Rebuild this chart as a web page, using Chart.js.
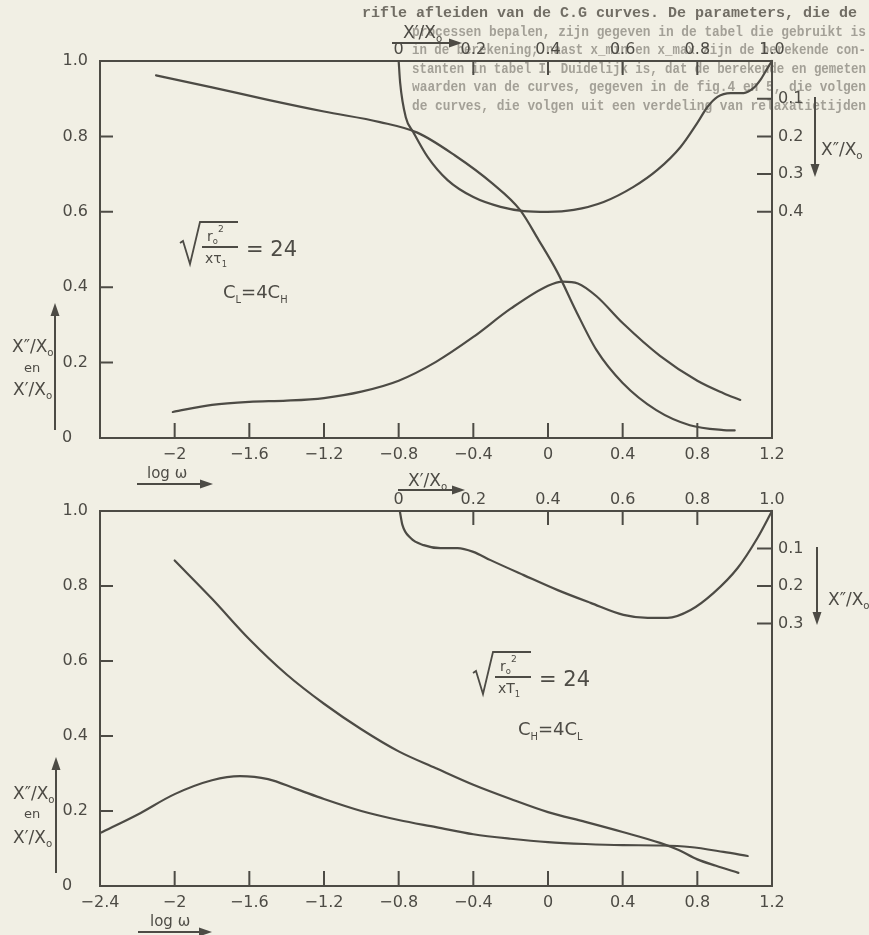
<!DOCTYPE html>
<html lang="nl">
<head>
<meta charset="UTF-8">
<title>X'/X0 en X''/X0 tegen log ω</title>
<script src="https://cdn.jsdelivr.net/npm/chart.js"></script>
<style>
  html, body { margin: 0; padding: 0; background: #f1efe4; }
  #wrap { position: relative; width: 869px; height: 935px; overflow: hidden; }
  #wrap canvas { position: absolute; left: 0; top: 0; }
</style>
</head>
<body>
<div id="wrap">
  <canvas id="chartTop" width="869" height="935"></canvas>
  <canvas id="chartBot" width="869" height="935"></canvas>
</div>
<script>
// as-indeling
const logwTicks = [-2.4, -2, -1.6, -1.2, -0.8, -0.4, 0, 0.4, 0.8, 1.2];
const logwLabels = ['−2.4', '−2', '−1.6', '−1.2', '−0.8', '−0.4', '0', '0.4', '0.8', '1.2'];
const leftTicks = [0, 0.2, 0.4, 0.6, 0.8, 1.0];
const leftLabels = ['0', '0.2', '0.4', '0.6', '0.8', '1.0'];
const topTicks = [0, 0.2, 0.4, 0.6, 0.8, 1.0];
const topLabels = ['0', '0.2', '0.4', '0.6', '0.8', '1.0'];
const rightTicksTop = [0.1, 0.2, 0.3, 0.4];
const rightTicksBot = [0.1, 0.2, 0.3];
const rightLabels = ['0.1', '0.2', '0.3', '0.4'];

// bovenste figuur: C_L = 4C_H
const logwTopReal = [-2.1, -1.8, -1.5, -1.2, -0.9, -0.7, -0.5, -0.3, -0.15, -0.05, 0.05, 0.15, 0.26, 0.4, 0.58, 0.76, 0.94, 1.0];
const realTop = [0.962, 0.93, 0.897, 0.866, 0.838, 0.81, 0.75, 0.676, 0.605, 0.525, 0.44, 0.337, 0.233, 0.146, 0.074, 0.034, 0.021, 0.02];
const logwTopImag = [-2.01, -1.8, -1.6, -1.4, -1.2, -1.0, -0.8, -0.6, -0.4, -0.2, 0.0, 0.08, 0.16, 0.26, 0.4, 0.6, 0.8, 0.94, 1.03];
const imagTop = [0.069, 0.088, 0.096, 0.099, 0.106, 0.123, 0.152, 0.202, 0.268, 0.343, 0.404, 0.415, 0.41, 0.376, 0.305, 0.218, 0.152, 0.119, 0.101];
const coleRealTop = [0, 0.004, 0.019, 0.04, 0.078, 0.131, 0.2, 0.273, 0.335, 0.399, 0.469, 0.549, 0.629, 0.693, 0.755, 0.8, 0.827, 0.854, 0.889, 0.924, 0.95, 0.969, 0.988, 1.0];
const coleImagTop = [0, 0.058, 0.149, 0.19, 0.255, 0.316, 0.361, 0.387, 0.398, 0.4, 0.395, 0.374, 0.334, 0.289, 0.228, 0.164, 0.122, 0.095, 0.085, 0.085, 0.072, 0.05, 0.019, 0];

// onderste figuur: C_H = 4C_L
const logwBotReal = [-2.0, -1.8, -1.6, -1.4, -1.2, -1.0, -0.8, -0.6, -0.4, -0.2, 0.0, 0.2, 0.4, 0.6, 0.7, 0.8, 0.9, 1.02];
const realBot = [0.868, 0.766, 0.658, 0.564, 0.486, 0.418, 0.359, 0.314, 0.27, 0.232, 0.197, 0.171, 0.144, 0.115, 0.096, 0.071, 0.054, 0.035];
const logwBotImag = [-2.4, -2.2, -2.0, -1.8, -1.65, -1.5, -1.35, -1.2, -1.0, -0.8, -0.6, -0.4, -0.2, 0.0, 0.2, 0.4, 0.6, 0.76, 0.94, 1.07];
const imagBot = [0.141, 0.19, 0.245, 0.282, 0.293, 0.285, 0.259, 0.232, 0.2, 0.176, 0.157, 0.138, 0.126, 0.117, 0.112, 0.109, 0.108, 0.104, 0.091, 0.08];
const coleRealBot = [0.003, 0.01, 0.032, 0.067, 0.112, 0.158, 0.2, 0.246, 0.335, 0.426, 0.514, 0.602, 0.667, 0.72, 0.782, 0.843, 0.908, 0.961, 1.0];
const coleImagBot = [0, 0.037, 0.072, 0.091, 0.099, 0.099, 0.109, 0.131, 0.171, 0.211, 0.245, 0.277, 0.285, 0.285, 0.264, 0.219, 0.152, 0.072, 0];

// tekst van de pagina achter de figuur
const pageText = [
  'rifle afleiden van de C.G curves. De parameters, die de',
  'processen bepalen, zijn gegeven in de tabel die gebruikt is',
  'in de berekening; naast x_min en x_max zijn de berekende con-',
  'stanten in tabel I. Duidelijk is, dat de berekende en gemeten',
  'waarden van de curves, gegeven in de fig.4 en 5, die volgen',
  'de curves, die volgen uit een verdeling van relaxatietijden'
];

const INK = '#4d4b45';
const FONT = "'DejaVu Sans', sans-serif";

const pts = (xs, ys) => xs.map((x, i) => ({ x, y: ys[i] }));

function curve(xs, ys, xAxisID, yAxisID) {
  return {
    data: pts(xs, ys), xAxisID, yAxisID,
    showLine: true, fill: false, pointRadius: 0, clip: false,
    borderColor: INK, borderWidth: 2.2, cubicInterpolationMode: 'monotone',
    borderCapStyle: 'round', borderJoinStyle: 'round'
  };
}

// tekst met kleine indices / exponenten
function rich(ctx, x, y, size, parts) {
  ctx.textAlign = 'left';
  ctx.textBaseline = 'alphabetic';
  for (const p of parts) {
    const s = size * (p.s || 1);
    ctx.font = `${p.w || 'normal'} ${s}px ${FONT}`;
    ctx.fillText(p.t, x, y + (p.dy || 0) * size);
    x += ctx.measureText(p.t).width + (p.gap || 0);
  }
  return x;
}

function ratio(ctx, x, y, size, primes) {
  rich(ctx, x, y, size, [{ t: 'X' + primes + '/X' }, { t: 'o', s: 0.6, dy: 0.22 }]);
}

function arrow(ctx, x1, y1, x2, y2) {
  const a = Math.atan2(y2 - y1, x2 - x1), L = 13, W = 4.5;
  ctx.beginPath();
  ctx.moveTo(x1, y1);
  ctx.lineTo(x2 - L * 0.7 * Math.cos(a), y2 - L * 0.7 * Math.sin(a));
  ctx.stroke();
  ctx.beginPath();
  ctx.moveTo(x2, y2);
  ctx.lineTo(x2 - L * Math.cos(a) - W * Math.sin(a), y2 - L * Math.sin(a) + W * Math.cos(a));
  ctx.lineTo(x2 - L * Math.cos(a) + W * Math.sin(a), y2 - L * Math.sin(a) - W * Math.cos(a));
  ctx.closePath();
  ctx.fill();
}

// wortelformule: x = begin wortelteken, y = breukstreep
function formula(ctx, x, y, denom) {
  ctx.lineWidth = 1.8;
  ctx.beginPath();
  ctx.moveTo(x, y - 4);
  ctx.lineTo(x + 3, y - 6);
  ctx.lineTo(x + 10, y + 17);
  ctx.lineTo(x + 20, y - 25);
  ctx.lineTo(x + 58, y - 25);
  ctx.stroke();
  rich(ctx, x + 27, y - 6, 14, [{ t: 'r' }, { t: 'o', s: 0.6, dy: 0.2 }, { t: '2', s: 0.65, dy: -0.65 }]);
  ctx.beginPath();
  ctx.moveTo(x + 22, y);
  ctx.lineTo(x + 58, y);
  ctx.stroke();
  rich(ctx, x + 25, y + 16, 14, denom);
  rich(ctx, x + 66, y + 9, 21, [{ t: '= 24' }]);
}

function inwardTicks(chart, rightVals) {
  const { ctx, chartArea: a, scales } = chart;
  ctx.save();
  ctx.strokeStyle = INK;
  ctx.lineWidth = 2;
  ctx.beginPath();
  for (const v of logwTicks) {
    if (v <= scales.x.min || v >= scales.x.max) continue;
    const px = scales.x.getPixelForValue(v);
    ctx.moveTo(px, a.bottom); ctx.lineTo(px, a.bottom - 15);
  }
  for (const v of topTicks) {
    if (v <= 0 || v >= 1) continue;
    const px = scales.xTop.getPixelForValue(v);
    ctx.moveTo(px, a.top); ctx.lineTo(px, a.top + 14);
  }
  for (const v of leftTicks) {
    if (v <= 0 || v >= 1) continue;
    const py = scales.y.getPixelForValue(v);
    ctx.moveTo(a.left, py); ctx.lineTo(a.left + 13, py);
  }
  for (const v of rightVals) {
    const py = scales.yRight.getPixelForValue(v);
    ctx.moveTo(a.right, py); ctx.lineTo(a.right - 15, py);
  }
  ctx.stroke();
  // nul van de linker as staat iets naar links
  ctx.fillStyle = INK;
  ctx.font = `16px ${FONT}`;
  ctx.textAlign = 'center';
  ctx.textBaseline = 'middle';
  ctx.fillText('0', 67, scales.y.getPixelForValue(0));
  ctx.restore();
}

function makeChart(id, datasets, box, rightVals, firstLogw, decor, backdrop) {
  const setTicks = vals => s => { s.ticks = vals.map(v => ({ value: v })); };
  const tickFont = { family: FONT, size: 16 };
  const base = {
    type: 'linear',
    grid: { display: false, drawTicks: false },
    border: { display: true, color: INK, width: 2 }
  };
  return new Chart(document.getElementById(id), {
    type: 'scatter',
    data: { datasets },
    options: {
      responsive: false, animation: false, events: [],
      layout: { padding: 0 },
      plugins: { legend: { display: false }, tooltip: { enabled: false } },
      scales: {
        x: {
          ...base, position: 'bottom', min: -2.4, max: 1.2,
          afterBuildTicks: setTicks(logwTicks),
          afterFit: s => { s.height = 935 - box.bottom; },
          ticks: { color: INK, font: tickFont, padding: 7, autoSkip: false, maxRotation: 0,
            callback: (v, i) => (i === 0 && !firstLogw) ? '' : logwLabels[i] }
        },
        xTop: {
          ...base, position: 'top', min: -0.8, max: 1.0,
          afterBuildTicks: setTicks(topTicks),
          afterFit: s => { s.height = box.top; },
          ticks: { color: INK, font: tickFont, padding: 2, autoSkip: false, maxRotation: 0,
            callback: (v, i) => topLabels[i] }
        },
        y: {
          ...base, position: 'left', min: 0, max: 1,
          afterBuildTicks: setTicks(leftTicks),
          afterFit: s => { s.width = 100; },
          ticks: { color: INK, font: tickFont, padding: 12, autoSkip: false,
            callback: (v, i) => i === 0 ? '' : leftLabels[i] }
        },
        yRight: {
          ...base, position: 'right', min: 0, max: 1, reverse: true,
          afterBuildTicks: setTicks(rightVals),
          afterFit: s => { s.width = 869 - 772; },
          ticks: { color: INK, font: tickFont, padding: 6, autoSkip: false,
            callback: (v, i) => rightLabels[i] }
        }
      }
    },
    plugins: [{
      id: 'decor',
      beforeDraw: chart => { if (backdrop) backdrop(chart.ctx); },
      afterDraw: chart => {
        inwardTicks(chart, rightVals);
        const ctx = chart.ctx;
        ctx.save();
        ctx.fillStyle = INK;
        ctx.strokeStyle = INK;
        ctx.lineWidth = 2;
        decor(ctx);
        ctx.restore();
      }
    }]
  });
}

makeChart('chartTop', [
  curve(logwTopReal, realTop, 'x', 'y'),
  curve(logwTopImag, imagTop, 'x', 'y'),
  curve(coleRealTop, coleImagTop, 'xTop', 'yRight')
], { top: 61, bottom: 438 }, rightTicksTop, false, ctx => {
  // links: X''/X0 en X'/X0
  arrow(ctx, 55, 430, 55, 303);
  ratio(ctx, 12, 352, 17, '″');
  rich(ctx, 24, 372, 13, [{ t: 'en' }]);
  ratio(ctx, 13, 395, 17, '′');
  // onder: log ω
  rich(ctx, 147, 478, 15, [{ t: 'log ω' }]);
  arrow(ctx, 137, 484, 213, 484);
  // boven: X'/X0
  ratio(ctx, 403, 38, 17, '′');
  arrow(ctx, 392, 43, 462, 43);
  // rechts: X''/X0
  arrow(ctx, 815, 97, 815, 177);
  ratio(ctx, 821, 155, 17, '″');
  formula(ctx, 180, 247, [{ t: 'x' }, { t: 'τ' }, { t: '1', s: 0.6, dy: 0.25 }]);
  rich(ctx, 223, 298, 18, [{ t: 'C' }, { t: 'L', s: 0.55, dy: 0.25 }, { t: '=4C' }, { t: 'H', s: 0.55, dy: 0.25 }]);
}, ctx => {
  ctx.save();
  ctx.font = `bold 15px 'Liberation Mono', monospace`;
  ctx.textAlign = 'left';
  ctx.textBaseline = 'alphabetic';
  pageText.forEach((line, i) => {
    ctx.fillStyle = i === 0 ? 'rgba(70,66,58,0.75)' : 'rgba(85,81,73,0.5)';
    const x = i === 0 ? 362 : 412;
    ctx.fillText(line, x, 17 + i * 18.6, 866 - x);
  });
  ctx.restore();
});

makeChart('chartBot', [
  curve(logwBotReal, realBot, 'x', 'y'),
  curve(logwBotImag, imagBot, 'x', 'y'),
  curve(coleRealBot, coleImagBot, 'xTop', 'yRight')
], { top: 511, bottom: 886 }, rightTicksBot, true, ctx => {
  arrow(ctx, 56, 873, 56, 757);
  ratio(ctx, 13, 799, 17, '″');
  rich(ctx, 24, 818, 13, [{ t: 'en' }]);
  ratio(ctx, 13, 843, 17, '′');
  rich(ctx, 150, 926, 15, [{ t: 'log ω' }]);
  arrow(ctx, 138, 932, 212, 932);
  ratio(ctx, 408, 486, 17, '′');
  arrow(ctx, 398, 490, 465, 490);
  arrow(ctx, 817, 547, 817, 625);
  ratio(ctx, 828, 605, 17, '″');
  formula(ctx, 473, 677, [{ t: 'x' }, { t: 'T' }, { t: '1', s: 0.6, dy: 0.25 }]);
  rich(ctx, 518, 735, 18, [{ t: 'C' }, { t: 'H', s: 0.55, dy: 0.25 }, { t: '=4C' }, { t: 'L', s: 0.55, dy: 0.25 }]);
});
</script>
</body>
</html>
